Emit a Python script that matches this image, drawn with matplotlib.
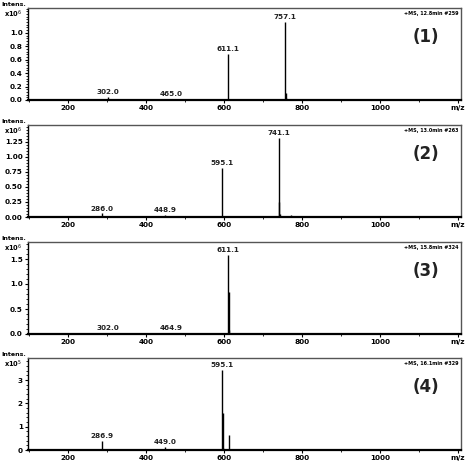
import matplotlib.pyplot as plt
from matplotlib.ticker import MultipleLocator, AutoMinorLocator

# Spectra (m/z, intensity in units of the exponent shown on each panel)
mz_1 = [302.0, 303.0, 465.0, 611.1, 757.1, 758.1, 759.1]
int_1 = [0.04, 0.01, 0.02, 0.69, 1.16, 0.10, 0.03]
labels_1 = [302.0, 465.0, 611.1, 757.1]

mz_2 = [286.0, 287.0, 448.9, 595.1, 741.1, 742.1, 743.1, 772.0]
int_2 = [0.06, 0.02, 0.04, 0.82, 1.32, 0.25, 0.05, 0.03]
labels_2 = [286.0, 448.9, 595.1, 741.1]

mz_3 = [302.0, 464.9, 611.1, 612.1, 613.1, 760.0]
int_3 = [0.02, 0.02, 1.58, 0.85, 0.08, 0.01]
labels_3 = [302.0, 464.9, 611.1]

mz_4 = [286.9, 300.0, 449.0, 470.0, 595.1, 596.1, 597.1, 613.0, 660.0, 680.0, 740.0]
int_4 = [0.38, 0.03, 0.15, 0.03, 3.43, 1.60, 0.10, 0.64, 0.02, 0.02, 0.04]
labels_4 = [286.9, 449.0, 595.1]

scan_info = ["+MS, 12.8min #259", "+MS, 13.0min #263", "+MS, 15.8min #324", "+MS, 16.1min #329"]
panel_names = ["(1)", "(2)", "(3)", "(4)"]
exponents = [6, 6, 6, 5]
y_tops = [1.37, 1.53, 1.84, 3.95]
y_ticks = [[0.0, 0.2, 0.4, 0.6, 0.8, 1.0],
           [0.0, 0.25, 0.5, 0.75, 1.0, 1.25],
           [0.0, 0.5, 1.0, 1.5],
           [0, 1, 2, 3]]
y_fmt = ["%.1f", "%.2f", "%.1f", "%.0f"]
x_ticks = [200, 400, 600, 800, 1000, 1200]
x_labels = ["200", "400", "600", "800", "1000", "m/z"]

spectra = [(mz_1, int_1, labels_1), (mz_2, int_2, labels_2),
           (mz_3, int_3, labels_3), (mz_4, int_4, labels_4)]

fig = plt.figure(figsize=(4.71, 4.65), dpi=100)

bottoms = [365, 248, 131, 15]
for i, (mz, inten, labs) in enumerate(spectra):
    ax = fig.add_axes([28 / 471, bottoms[i] / 465, 433 / 471, 92 / 465])
    ax.vlines(mz, 0, inten, color='black', lw=1.0)
    ax.set_xlim(97, 1208)
    ax.set_ylim(0, y_tops[i])

    for m in labs:
        h = inten[mz.index(m)]
        ax.text(m, h + y_tops[i] * 0.02, "%.1f" % m, ha='center', va='bottom',
                fontsize=5.2, fontweight='bold', color='#222222')

    ax.set_xticks(x_ticks)
    ax.set_xticklabels(x_labels)
    ax.xaxis.set_minor_locator(MultipleLocator(100))
    ax.set_yticks(y_ticks[i])
    ax.set_yticklabels([y_fmt[i] % v for v in y_ticks[i]])
    ax.yaxis.set_minor_locator(AutoMinorLocator(5))
    ax.tick_params(axis='both', labelsize=5.2, length=2.5, width=0.8, pad=1.2)
    ax.tick_params(axis='both', which='minor', length=1.5, width=0.6)
    for lab in ax.get_xticklabels() + ax.get_yticklabels():
        lab.set_fontweight('bold')

    for side in ['top', 'right']:
        ax.spines[side].set_color('#555555')
        ax.spines[side].set_linewidth(1.0)
    ax.spines['left'].set_linewidth(1.0)
    ax.spines['bottom'].set_linewidth(1.6)

    ax.text(-0.005, 1.04, "Intens.", transform=ax.transAxes, ha='right', va='center',
            fontsize=4.5, fontweight='bold')
    ax.text(-0.014, 0.93, r"x10$^{%d}$" % exponents[i], transform=ax.transAxes,
            ha='right', va='center', fontsize=4.8, fontweight='bold')
    ax.text(0.995, 0.97, scan_info[i], transform=ax.transAxes, ha='right', va='top',
            fontsize=3.5, fontweight='bold')
    ax.text(0.92, 0.68, panel_names[i], transform=ax.transAxes, ha='center', va='center',
            fontsize=12, fontweight='bold', color='#222222')

fig.savefig("out.png", dpi=100)
